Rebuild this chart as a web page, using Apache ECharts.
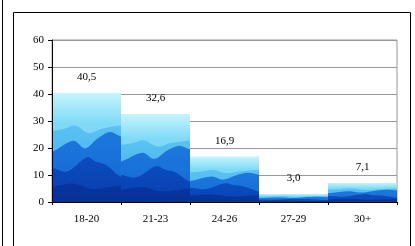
<!DOCTYPE html>
<html>
<head>
<meta charset="utf-8">
<script src="https://cdn.jsdelivr.net/npm/echarts@6/dist/echarts.min.js"></script>
<style>
  html, body { margin: 0; padding: 0; background: #fff; }
  #chart { width: 415px; height: 246px; }
</style>
</head>
<body>
<div id="chart"></div>
<script>
var categories = ['18-20', '21-23', '24-26', '27-29', '30+'];
var values = [40.5, 32.6, 16.9, 3.0, 7.1];
var yTicks = [0, 10, 20, 30, 40, 50, 60];

var myChart = echarts.init(document.getElementById('chart'));

// mountain texture, stretched over each bar (fractions of bar width / height)
var layers = [
    {color: ['#5cc2f2', '#2f9de9'], ridge: [[0, 0.35], [0.18, 0.33], [0.34, 0.3], [0.53, 0.37], [0.72, 0.33], [1, 0.3]]},
    {color: ['#1c78de', '#0f5acc'], ridge: [[0, 0.54], [0.31, 0.44], [0.48, 0.51], [0.66, 0.42], [0.84, 0.36], [1, 0.4]]},
    {color: ['#0b4cc0', '#072f98'], ridge: [[0, 0.69], [0.22, 0.72], [0.51, 0.59], [0.63, 0.63], [0.78, 0.66], [1, 0.77]]},
    {color: ['#07349f', '#052988'], ridge: [[0, 0.86], [0.3, 0.83], [0.6, 0.88], [1, 0.85]]}
];

function renderBar(params, api) {
    var idx = api.value(0);
    var v = api.value(1);
    var top = api.coord([idx, v]);
    var base = api.coord([idx, 0]);
    var w = api.size([1, 0])[0];
    var x0 = top[0] - w / 2;
    var y0 = top[1];
    var h = base[1] - top[1];
    var bars = [{
        type: 'rect',
        shape: {x: x0, y: y0, width: w, height: h},
        style: {fill: new echarts.graphic.LinearGradient(0, 0, 0, 1, [
            {offset: 0, color: '#c6f5fd'},
            {offset: 0.28, color: '#80daf7'},
            {offset: 1, color: '#62c6f3'}
        ])}
    }];
    layers.forEach(function (l) {
        var r = l.ridge;
        var pts = r.map(function (p) { return [x0 + p[0] * w, y0 + p[1] * h]; });
        pts.unshift([x0 - 10, y0 + r[0][1] * h]);
        pts.push([x0 + w + 10, y0 + r[r.length - 1][1] * h]);
        pts.push([x0 + w + 10, y0 + h + 30]);
        pts.push([x0 - 10, y0 + h + 30]);
        bars.push({
            type: 'polygon',
            shape: {points: pts, smooth: 0.35},
            style: {fill: new echarts.graphic.LinearGradient(0, 0, 0, 1, [
                {offset: 0, color: l.color[0]},
                {offset: 1, color: l.color[1]}
            ])}
        });
    });
    return {
        type: 'group',
        children: [{
            type: 'group',
            clipPath: {type: 'rect', shape: {x: x0, y: y0, width: w, height: h}},
            children: bars
        }, {
            type: 'text',
            x: top[0],
            y: y0 - 10,
            style: {
                text: v.toFixed(1).replace('.', ','),
                fill: '#000',
                font: '11px "Liberation Serif"',
                textAlign: 'center',
                textVerticalAlign: 'bottom'
            }
        }]
    };
}

var option = {
    animation: false,
    textStyle: {fontFamily: 'Liberation Serif'},
    grid: {
        left: 52, right: 18, top: 40, bottom: 44,
        show: true,
        borderColor: '#999',
        borderWidth: 1
    },
    xAxis: {
        type: 'category',
        data: categories,
        axisLine: {lineStyle: {color: '#000'}},
        axisTick: {show: true, length: 3, lineStyle: {color: '#000'}},
        axisLabel: {color: '#000', fontSize: 11, margin: 12, fontFamily: 'Liberation Serif'},
        z: 10
    },
    yAxis: [{
        type: 'value',
        min: yTicks[0],
        max: yTicks[yTicks.length - 1],
        interval: 10,
        axisLine: {show: true, lineStyle: {color: '#000'}},
        axisTick: {show: true, length: 4, lineStyle: {color: '#000'}},
        axisLabel: {color: '#000', fontSize: 11, margin: 8, fontFamily: 'Liberation Serif'},
        splitLine: {show: false},
        z: 10
    }, {
        // gridlines only, kept behind the bars
        type: 'value',
        position: 'left',
        min: yTicks[0],
        max: yTicks[yTicks.length - 1],
        interval: 10,
        axisLine: {show: false},
        axisTick: {show: false},
        axisLabel: {show: false},
        splitLine: {show: true, lineStyle: {color: '#999'}},
        z: 0
    }],
    series: [{
        type: 'custom',
        renderItem: renderBar,
        encode: {x: 0, y: 1},
        data: values.map(function (v, i) { return [i, v]; })
    }],
    graphic: [
        {type: 'line', shape: {x1: 2.5, y1: 0, x2: 2.5, y2: 246}, style: {stroke: '#000', lineWidth: 1}, silent: true},
        {type: 'rect', shape: {x: 13.5, y: 12.5, width: 397, height: 300}, style: {fill: 'none', stroke: '#000', lineWidth: 1}, silent: true}
    ]
};
myChart.setOption(option);
</script>
</body>
</html>
